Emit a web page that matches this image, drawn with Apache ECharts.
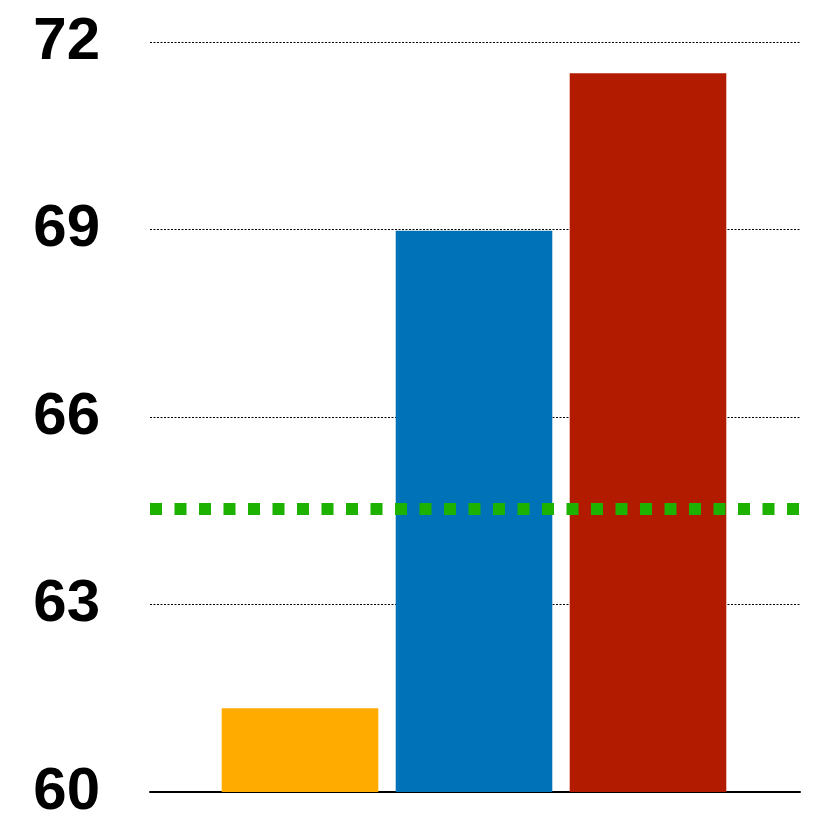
<!DOCTYPE html>
<html><head><meta charset="utf-8">
<script src="https://cdn.jsdelivr.net/npm/echarts@6/dist/echarts.min.js"></script>
<style>html,body{margin:0;padding:0;background:#fff}#c{width:830px;height:830px}</style>
</head><body><div id="c"></div>
<script>
const categories = ['A', 'B', 'C'];
const values = [61.34, 68.98, 71.5];
const barColors = ['#FFAB00', '#0073B8', '#B31B00'];
const referenceValue = 64.53;
const yMin = 60, yMax = 72, yInterval = 3;

const chart = echarts.init(document.getElementById('c'), null, {renderer: 'canvas'});
chart.setOption({
  animation: false,
  grid: [
    {left: 150, right: 30, top: 42, bottom: 38},
    {left: 213, right: 95, top: 42, bottom: 38}
  ],
  xAxis: [
    {gridIndex: 0, type: 'value', min: 0, max: 1, axisLabel: {show: false}, axisTick: {show: false}, splitLine: {show: false},
     axisLine: {show: true, onZero: false, lineStyle: {color: '#000', width: 2}}},
    {gridIndex: 1, type: 'category', data: categories, axisLabel: {show: false}, axisTick: {show: false}, axisLine: {show: false}}
  ],
  yAxis: [
    {gridIndex: 0, type: 'value', min: yMin, max: yMax, interval: yInterval,
     axisLine: {show: false}, axisTick: {show: false},
     axisLabel: {margin: 50, color: '#000', fontSize: 60, fontWeight: 'bold', fontFamily: 'Liberation Sans'},
     splitLine: {show: true, lineStyle: {color: '#000', width: 1, type: [2, 1.5]}}},
    {gridIndex: 1, type: 'value', min: yMin, max: yMax, interval: yInterval, show: false, splitLine: {show: false}}
  ],
  series: [
    {type: 'bar', xAxisIndex: 1, yAxisIndex: 1, barCategoryGap: '10%', z: 2,
     data: values.map((v, i) => ({value: v, itemStyle: {color: barColors[i]}}))},
    {type: 'line', xAxisIndex: 0, yAxisIndex: 0, symbol: 'none', z: 5,
     data: [[0, referenceValue], [1, referenceValue]],
     lineStyle: {color: '#1DB100', width: 12, type: [12, 12.5], cap: 'butt'}}
  ]
});
</script></body></html>
